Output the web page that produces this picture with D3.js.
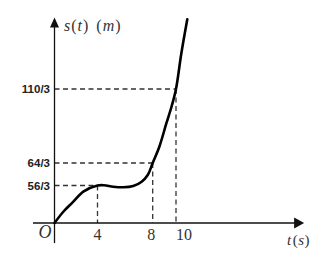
<!DOCTYPE html>
<html><head><meta charset="utf-8">
<script src="https://cdn.jsdelivr.net/npm/d3@7"></script>
<style>html,body{margin:0;padding:0;background:#fff;}</style>
</head><body>
<script>
// Marked points of the motion graph
const markT = [4, 8, 10];
const markS = [56/3, 64/3, 110/3];
const markSLabels = ["56/3", "64/3", "110/3"];
const tickTLabels = ["4", "8", "10"];
// Curve s(t)
const curveT = [0, 0.82, 1.75, 2.68, 4, 4.47, 5.14, 5.87, 6.59, 7.2, 7.64, 8, 8.57, 9.17, 9.62, 10, 10.45, 10.97];
const curveS = [0, 5.6, 10.6, 15.6, 56/3, 18.7, 18.07, 17.77, 18.42, 19.12, 19.91, 64/3, 24.71, 29.52, 33.04, 110/3, 43.92, 51.11];
// Axis extents (data units)
const tAxis = [-2, 21];
const sAxis = [-10, 51.5];

const W = 323, H = 255;
const svg = d3.select("body").append("svg").attr("width", W).attr("height", H);

// The drawing is not to scale: piecewise linear scales through the marked values
const x = d3.scaleLinear().domain([0, 4, 8, 10]).range([54.5, 97.5, 152.7, 176]);
const y = d3.scaleLinear().domain([0, 56/3, 64/3, 110/3]).range([223, 185.5, 163, 89]);

const axisCol = "#111";
// dashed guides
const guides = svg.append("g").attr("stroke", "#333").attr("stroke-width", 1.3)
  .attr("stroke-dasharray", "5,3.5").attr("fill", "none");
markT.forEach((t, i) => {
  guides.append("line").attr("x1", x(0)).attr("x2", x(t)).attr("y1", y(markS[i])).attr("y2", y(markS[i]));
  guides.append("line").attr("x1", x(t)).attr("x2", x(t)).attr("y1", y(markS[i])).attr("y2", y(0));
});

// axes
svg.append("line").attr("x1", x(tAxis[0])).attr("x2", x(tAxis[1]) - 8).attr("y1", y(0)).attr("y2", y(0))
  .attr("stroke", axisCol).attr("stroke-width", 1.3);
svg.append("line").attr("x1", x(0)).attr("x2", x(0)).attr("y1", y(sAxis[0])).attr("y2", y(sAxis[1]) + 8)
  .attr("stroke", axisCol).attr("stroke-width", 1.3);
// arrowheads
const xe = x(tAxis[1]), y0 = y(0);
svg.append("path").attr("d", `M${xe},${y0} L${xe-10},${y0-5.5} L${xe-10},${y0+5.5} Z`).attr("fill", axisCol);
const ye = y(sAxis[1]), x0 = x(0);
svg.append("path").attr("d", `M${x0},${ye} L${x0-4.5},${ye+10} L${x0+4.5},${ye+10} Z`).attr("fill", axisCol);

// curve
const pts = curveT.map((t, i) => [t, curveS[i]]);
svg.append("path").datum(pts)
  .attr("d", d3.line().x(d => x(d[0])).y(d => y(d[1])).curve(d3.curveCatmullRom.alpha(0.5)))
  .attr("fill", "none").attr("stroke", "#000").attr("stroke-width", 2.6).attr("stroke-linecap", "round");

// s labels
svg.append("g").selectAll("text").data(markS).join("text")
  .attr("x", x(0) - 4.5).attr("y", d => y(d)).attr("dy", "0.36em")
  .attr("text-anchor", "end")
  .attr("font-family", "Liberation Sans, Arial, sans-serif").attr("font-weight", "bold")
  .attr("font-size", 11.5).attr("fill", "#222")
  .text((d, i) => markSLabels[i]);

// t tick labels
const serif = "Liberation Serif, Times New Roman, serif";
svg.append("g").selectAll("text").data(markT).join("text")
  .attr("x", (d, i) => i === 2 ? x(d) + 8 : x(d) - (i === 1 ? 1.5 : 0))
  .attr("y", 240).attr("text-anchor", "middle")
  .attr("font-family", serif).attr("font-size", 16).attr("fill", "#333")
  .text((d, i) => tickTLabels[i]);

// origin
svg.append("text").attr("x", x(0) - 3).attr("y", 238).attr("text-anchor", "end")
  .attr("font-family", serif).attr("font-style", "italic").attr("font-size", 18).attr("fill", "#333").text("O");

// axis titles
function mathLabel(xp, yp, parts, size) {
  const t = svg.append("text").attr("x", xp).attr("y", yp)
    .attr("font-family", serif).attr("font-size", size).attr("fill", "#333");
  parts.forEach(p => t.append("tspan").attr("font-style", p[1] ? "italic" : "normal")
    .attr("dx", p[2] || 0).text(p[0]));
}
mathLabel(64, 31, [["s", 1], ["(", 0, 1], ["t", 1, 1], [")", 0, 1], ["(", 0, 8], ["m", 1, 1], [")", 0, 1]], 16);
mathLabel(287, 245, [["t", 1], ["(", 0, 1.5], ["s", 1, 0.5], [")", 0, 0.5]], 15);
</script>
</body></html>
